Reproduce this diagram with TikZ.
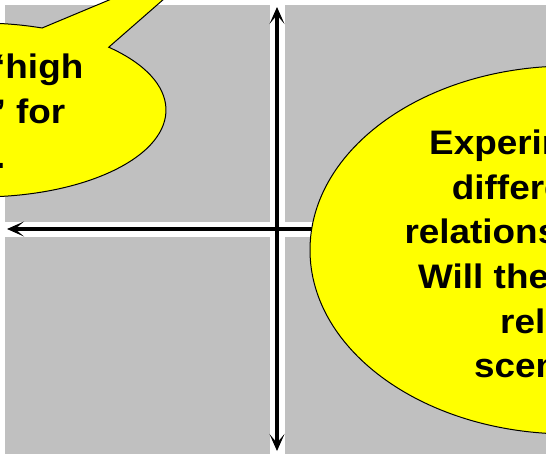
\documentclass[tikz,border=0pt]{standalone}
\usepackage{fontspec}
\setmainfont{Liberation Sans}
\newfontfamily\bubblefont[FakeStretch=1.085]{Liberation Sans}
\usetikzlibrary{arrows.meta,shapes.geometric}
\definecolor{quadgray}{RGB}{192,192,192}
\definecolor{bubbleyellow}{RGB}{255,255,0}
\tikzset{quadstyle/.style = {rectangle, fill = quadgray, inner sep = 0pt, outer sep = 0pt, anchor = north west},
	bubblestyle/.style = {fill = bubbleyellow, draw = black, line width = 1pt},
	saytext/.style = {inner sep = 0pt, font = \bubblefont\fontsize{34}{45}\selectfont\bfseries},
	axisline/.style = {<->, line width = 4pt, >={Stealth[length=17pt, width=15pt, inset=9pt]}}}

\begin{document}
\begin{tikzpicture}[x=1pt, y=-1pt]
 \useasboundingbox (0,0) rectangle (546,453);
 \clip (0,0) rectangle (546,453);

 % the four quadrants
 \node (quadNW) at (5,5) [quadstyle, minimum width = 264.5pt, minimum height = 217pt] {};
 \node (quadNE) at (285,5) [quadstyle, minimum width = 300pt, minimum height = 217pt] {};
 \node (quadSW) at (5,237) [quadstyle, minimum width = 264.5pt, minimum height = 240pt] {};
 \node (quadSE) at (285,237) [quadstyle, minimum width = 300pt, minimum height = 240pt] {};

 % axes
 \coordinate (axisN) at (277,7);
 \coordinate (axisS) at (277,451);
 \coordinate (axisW) at (7,229);
 \coordinate (axisE) at (640,229);
 \draw [axisline] (axisS) -- (axisN);
 \draw [axisline] (axisE) -- (axisW);

 % callout on the left
 \coordinate (leftc) at (-20,110);
 \coordinate (tailtip) at (212,-43);
 \draw [bubblestyle] ([shift={(-46.2:186 and 87)}]leftc)
  arc [start angle = -46.2, end angle = 289.5, x radius = 186, y radius = 87]
  -- (tailtip) -- cycle;
 \node (left1) at (83.5,78.7) [saytext, anchor = base east] {‘high};
 \node (left2) at (65.5,123.3) [saytext, anchor = base east] {’ for};
 \node (left3) at (5.5,168) [saytext, anchor = base east] {.};

 % bubble on the right
 \node (rightbub) at (569,250) [bubblestyle, ellipse, minimum width = 518pt, minimum height = 368pt] {};
 \node (right1) at (429,154) [saytext, anchor = base west] {Experim};
 \node (right2) at (451.7,199) [saytext, anchor = base west] {differe};
 \node (right3) at (404.3,243.5) [saytext, anchor = base west] {relations};
 \node (right4) at (418,288) [saytext, anchor = base west] {Will the};
 \node (right5) at (500,333) [saytext, anchor = base west] {rel};
 \node (right6) at (474,377.5) [saytext, anchor = base west] {scen};

\end{tikzpicture}
\end{document}
